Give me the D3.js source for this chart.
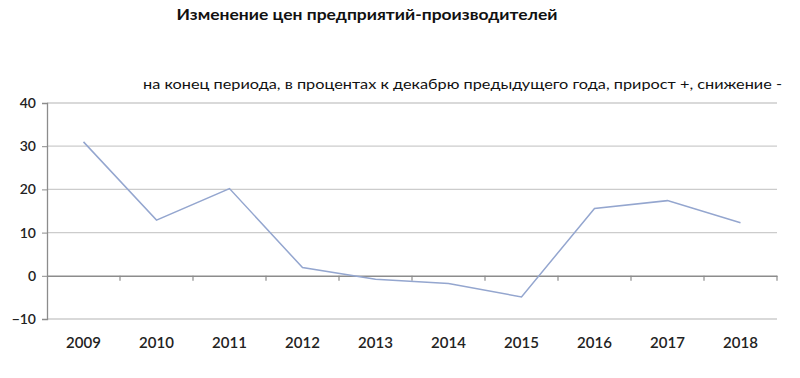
<!DOCTYPE html>
<html lang="ru">
<head>
<meta charset="UTF-8">
<title>Изменение цен предприятий-производителей</title>
<script src="https://d3js.org/d3.v7.min.js"></script>
<style>
    body { margin: 0; background: #fff; }
    svg { display: block; font-family: Lato, "Open Sans", sans-serif; }
</style>
</head>
<body>
<svg id="chart" width="800" height="378"></svg>
<script>
    // данные
    const years = ["2009", "2010", "2011", "2012", "2013", "2014", "2015", "2016", "2017", "2018"];
    const values = [31.0, 12.9, 20.2, 1.9, -0.8, -1.8, -4.9, 15.6, 17.4, 12.3];
    const yTicks = [-10, 0, 10, 20, 30, 40];

    const title = "Изменение цен предприятий-производителей";
    const subtitle = "на конец периода, в процентах к декабрю предыдущего года, прирост +, снижение -";

    const svg = d3.select("#chart");
    const margin = { top: 103, right: 23, bottom: 59, left: 47 };
    const width = 800 - margin.left - margin.right;
    const height = 378 - margin.top - margin.bottom;

    const g = svg.append("g").attr("transform", `translate(${margin.left},${margin.top})`);

    const x = d3.scaleBand().domain(years).range([0, width]).padding(0);
    const y = d3.scaleLinear().domain([-10, 40]).range([height, 0]);

    // сетка
    g.append("g").selectAll("line")
        .data(yTicks)
        .join("line")
        .attr("x1", 0).attr("x2", width)
        .attr("y1", d => y(d)).attr("y2", d => y(d))
        .attr("stroke", "#cccccc")
        .attr("stroke-width", 1.3);

    // ось Y
    const yAxis = g.append("g")
        .call(d3.axisLeft(y).tickValues(yTicks).tickSize(5).tickPadding(6));
    yAxis.select(".domain").attr("stroke", "#8c8c8c").attr("stroke-width", 1.3);
    yAxis.selectAll(".tick line").attr("stroke", "#8c8c8c");
    yAxis.selectAll(".tick text")
        .attr("font-size", 14)
        .attr("font-weight", 600)
        .attr("fill", "#222")
        .attr("font-family", "Lato, sans-serif");

    // ось X по нулю
    const xAxis = g.append("g")
        .attr("transform", `translate(0,${y(0)})`)
        .call(d3.axisBottom(x).tickSize(0).tickFormat(""));
    xAxis.select(".domain").attr("stroke", "#8c8c8c").attr("stroke-width", 1.3);

    // деления между категориями
    g.append("g").selectAll("line")
        .data(years)
        .join("line")
        .attr("x1", d => x(d) + x.step())
        .attr("x2", d => x(d) + x.step())
        .attr("y1", y(0)).attr("y2", y(0) + 5)
        .attr("stroke", "#8c8c8c")
        .attr("stroke-width", 1.2);

    // подписи годов снизу
    g.append("g").selectAll("text")
        .data(years)
        .join("text")
        .attr("x", d => x(d) + x.bandwidth() / 2)
        .attr("y", height + 29)
        .attr("text-anchor", "middle")
        .attr("font-size", 15)
        .attr("font-weight", 600)
        .attr("fill", "#222")
        .text(d => d);

    // линия
    const line = d3.line()
        .x((d, i) => x(years[i]) + x.bandwidth() / 2)
        .y(d => y(d));

    g.append("path")
        .datum(values)
        .attr("fill", "none")
        .attr("stroke", "#94a6cf")
        .attr("stroke-width", 1.5)
        .attr("d", line);

    // заголовки
    svg.append("text")
        .attr("x", 367).attr("y", 20)
        .attr("text-anchor", "middle")
        .attr("font-size", 16)
        .attr("font-weight", "bold")
        .attr("fill", "#111")
        .attr("textLength", 381)
        .attr("lengthAdjust", "spacingAndGlyphs")
        .text(title);

    svg.append("text")
        .attr("x", 143).attr("y", 89)
        .attr("font-size", 13)
        .attr("fill", "#111")
        .attr("textLength", 639)
        .attr("lengthAdjust", "spacingAndGlyphs")
        .text(subtitle);
</script>
</body>
</html>
